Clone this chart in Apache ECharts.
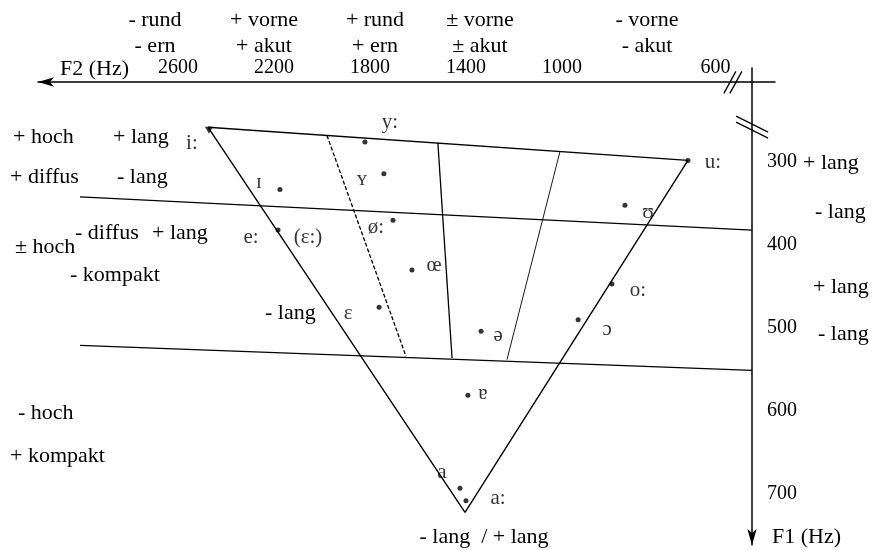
<!DOCTYPE html>
<html>
<head>
<meta charset="utf-8">
<script src="https://cdn.jsdelivr.net/npm/echarts@6/dist/echarts.min.js"></script>
<style>
  html, body { margin: 0; padding: 0; background: #fff; }
  #chart { width: 875px; height: 550px; }
</style>
</head>
<body>
<div id="chart"></div>
<script>
// tick labels
const f2Ticks = [2600, 2200, 1800, 1400, 1000, 600];
const f1Ticks = [300, 400, 500, 600, 700];

// vowel triangle and feature boundaries, [F2 Hz, F1 Hz]
const triangle = [[2475, 258], [672, 298], [1404, 722], [2475, 258]];
const highLine = [[3008, 342], [505, 382]];
const lowLine = [[3008, 521], [505, 551]];
const roundLine = [[1979, 268], [1650, 534]];
const frontLine = [[1517, 277], [1458, 536]];
const backLine = [[1008, 287], [1229, 538]];

// vowels
const vowelNames = ['i:', 'ɪ', 'e:', 'y:', 'ʏ', 'ø:', 'œ', 'ɛ', 'ə', 'ɐ', 'a', 'a:', 'u:', 'ʊ', 'o:', 'ɔ'];
const vowelF2 = [2475, 2175, 2183, 1821, 1742, 1704, 1625, 1762, 1337, 1392, 1425, 1400, 672, 836, 870, 958];
const vowelF1 = [258, 333, 382, 276, 314, 370, 430, 475, 504, 581, 693, 708, 298, 352, 447, 490];

// extra symbol written next to e:
const noteNames = ['(ɛ:)'];
const noteF2 = [2183];
const noteF1 = [382];

// axis break marks [F2, F1]
const breakPoints = [[555, 204, 'x'], [505, 258, 'y']];

// feature labels
const topRow1 = ['- rund', '+ vorne', '+ rund', '± vorne', '- vorne'];
const topRow2 = ['- ern', '+ akut', '+ ern', '± akut', '- akut'];
const rightFeatures = ['+ lang', '- lang', '+ lang', '- lang'];

const FONT = '"Liberation Serif", "DejaVu Serif", serif';
const FS = 22;   // words
const NS = 20;   // numbers

// the F2 axis is broken below 1000 Hz and drawn wider there
const STRETCH = 1.6;
function toAxis(hz) { return hz >= 1000 ? hz : 1000 - (1000 - hz) * STRETCH; }
function fromAxis(v) { return v >= 1000 ? v : 1000 - (1000 - v) / STRETCH; }
function pts(list) { return list.map(p => [toAxis(p[0]), p[1]]); }

// label placement for the vowel symbols
const labelShift = {
  'i:': [-17, 13], 'ɪ': [-21, -7], 'e:': [-27, 7], 'y:': [25, -20], 'ʏ': [-22, 6],
  'ø:': [-17, 7], 'œ': [22, -4], 'ɛ': [-31, 6], 'ə': [17, 4], 'ɐ': [15, -2],
  'a': [-18, -16], 'a:': [32, -2], 'u:': [25, 2], 'ʊ': [23, 7], 'o:': [26, 6], 'ɔ': [29, 10]
};

const chart = echarts.init(document.getElementById('chart'));

function lineSeries(data, width, type) {
  return {
    type: 'line',
    data: pts(data),
    symbol: 'none',
    silent: true,
    lineStyle: { color: '#000', width: width, type: type || 'solid' }
  };
}

const vowelData = vowelNames.map((n, i) => {
  const item = {
    name: n,
    value: [toAxis(vowelF2[i]), vowelF1[i]],
    label: { offset: labelShift[n] }
  };
  // the corner at i: is drawn as a small filled wedge
  if (n === 'i:') {
    item.symbol = 'triangle';
    item.symbolSize = [8, 7];
    item.symbolRotate = 180;
    item.symbolOffset = [1, 3];
  }
  return item;
});
const noteData = noteNames.map((n, i) => ({
  name: n,
  value: [toAxis(noteF2[i]), noteF1[i]],
  label: { offset: [30, 7] }
}));

const textStyle = { fill: '#000', font: FS + 'px ' + FONT };
const topX = [155, 264, 375, 480, 647];
const rightY = [163, 212, 287, 334];
const rightX = [803, 815, 813, 818];
let graphics = [];
topRow1.forEach((t, i) => {
  graphics.push({ type: 'text', x: topX[i], y: 20, style: Object.assign({ text: t, align: 'center', verticalAlign: 'middle' }, textStyle) });
  graphics.push({ type: 'text', x: topX[i], y: 46, style: Object.assign({ text: topRow2[i], align: 'center', verticalAlign: 'middle' }, textStyle) });
});
rightFeatures.forEach((t, i) => {
  graphics.push({ type: 'text', x: rightX[i], y: rightY[i], style: Object.assign({ text: t, align: 'left', verticalAlign: 'middle' }, textStyle) });
});
const leftTexts = [
  ['+ hoch', 13, 137], ['+ lang', 113, 137], ['+ diffus', 10, 177], ['- lang', 117, 177],
  ['- diffus', 75, 233], ['+ lang', 152, 233], ['± hoch', 15, 247], ['- kompakt', 70, 275],
  ['- lang', 265, 313], ['- hoch', 18, 413], ['+ kompakt', 10, 456],
  ['F2 (Hz)', 60, 69], ['F1 (Hz)', 772, 537]
];
leftTexts.forEach(t => {
  graphics.push({ type: 'text', x: t[1], y: t[2], style: Object.assign({ text: t[0], align: 'left', verticalAlign: 'middle' }, textStyle) });
});
graphics.push({ type: 'text', x: 484, y: 537, style: Object.assign({ text: '- lang  / + lang', align: 'center', verticalAlign: 'middle' }, textStyle) });

const option = {
  animation: false,
  backgroundColor: '#fff',
  grid: { left: 38, right: 100, top: 68, bottom: 5 },
  xAxis: {
    type: 'value',
    position: 'top',
    inverse: true,
    min: 112.5,
    max: 3183,
    offset: -14,
    axisLine: { show: true, lineStyle: { color: '#000', width: 1.5 }, symbol: ['arrow', 'none'], symbolSize: [7, 16] },
    axisTick: { show: false },
    splitLine: { show: false },
    axisLabel: {
      customValues: f2Ticks.map(toAxis),
      formatter: v => String(Math.round(fromAxis(v))),
      color: '#000', fontFamily: FONT, fontSize: NS, margin: 4
    }
  },
  yAxis: {
    type: 'value',
    position: 'right',
    inverse: true,
    min: 186.7,
    max: 761.4,
    offset: -23,
    axisLine: { show: true, lineStyle: { color: '#000', width: 1.5 }, symbol: ['arrow', 'none'], symbolSize: [7, 16] },
    axisTick: { show: false },
    splitLine: { show: false },
    axisLabel: {
      customValues: f1Ticks,
      color: '#000', fontFamily: FONT, fontSize: NS, margin: 15
    }
  },
  graphic: graphics,
  series: [
    lineSeries(triangle, 1.4),
    lineSeries(highLine, 1.2),
    lineSeries(lowLine, 1.2),
    lineSeries(roundLine, 1.3, [4, 2]),
    lineSeries(frontLine, 1.3),
    lineSeries(backLine, 0.9),
    {
      type: 'custom',
      silent: true,
      data: breakPoints.map(b => [toAxis(b[0]), b[1], b[2] === 'x' ? 0 : 1]),
      renderItem: function (params, api) {
        const c = api.coord([api.value(0), api.value(1)]);
        const vert = api.value(2) === 1;
        const kids = [-3, 3].map(d => ({
          type: 'line',
          shape: vert
            ? { x1: c[0] - 16, y1: c[1] - 8 + d, x2: c[0] + 16, y2: c[1] + 8 + d }
            : { x1: c[0] - 6 + d, y1: c[1] + 11, x2: c[0] + 6 + d, y2: c[1] - 11 },
          style: { stroke: '#000', lineWidth: 1.3 }
        }));
        return { type: 'group', children: kids };
      }
    },
    {
      type: 'scatter',
      data: vowelData,
      symbol: 'circle',
      symbolSize: 5,
      itemStyle: { color: '#000' },
      label: {
        show: true, position: 'inside', formatter: p => p.name,
        color: '#000', fontFamily: FONT, fontSize: 21
      }
    },
    {
      type: 'scatter',
      data: noteData,
      symbolSize: 0,
      label: {
        show: true, position: 'inside', formatter: p => p.name,
        color: '#000', fontFamily: FONT, fontSize: 21
      }
    }
  ]
};
chart.setOption(option);
</script>
</body>
</html>
